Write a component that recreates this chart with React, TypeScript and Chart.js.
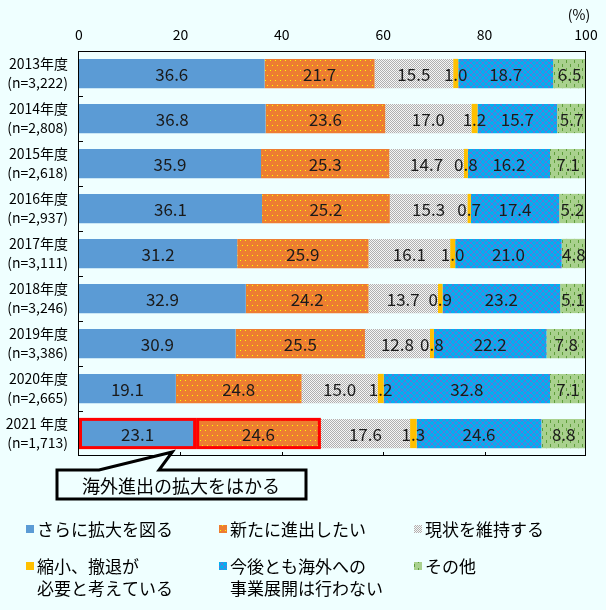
import React, { useEffect, useRef } from 'react';
import { Chart, registerables } from 'chart.js';
Chart.register(...registerables);

const years = ['2013年度', '2014年度', '2015年度', '2016年度', '2017年度', '2018年度', '2019年度', '2020年度', '2021 年度'];
const sampleSizes = ['(n=3,222)', '(n=2,808)', '(n=2,618)', '(n=2,937)', '(n=3,111)', '(n=3,246)', '(n=3,386)', '(n=2,665)', '(n=1,713)'];

const expandMore = [36.6, 36.8, 35.9, 36.1, 31.2, 32.9, 30.9, 19.1, 23.1];
const newEntry = [21.7, 23.6, 25.3, 25.2, 25.9, 24.2, 25.5, 24.8, 24.6];
const maintain = [15.5, 17.0, 14.7, 15.3, 16.1, 13.7, 12.8, 15.0, 17.6];
const shrink = [1.0, 1.2, 0.8, 0.7, 1.0, 0.9, 0.8, 1.2, 1.3];
const noOverseas = [18.7, 15.7, 16.2, 17.4, 21.0, 23.2, 22.2, 32.8, 24.6];
const others = [6.5, 5.7, 7.1, 5.2, 4.8, 5.1, 7.8, 7.1, 8.8];

const seriesNames = [
  ['さらに拡大を図る'],
  ['新たに進出したい'],
  ['現状を維持する'],
  ['縮小、撤退が', '必要と考えている'],
  ['今後とも海外への', '事業展開は行わない'],
  ['その他'],
];
const xTicks = [0, 20, 40, 60, 80, 100];
const calloutText = '海外進出の拡大をはかる';
const highlightIndex = 8;
const highlightSeries = [0, 1];

const FONT = '"Noto Sans CJK JP", "Noto Sans", sans-serif';
const BG = '#EFFFFF';

function makePattern(w: number, h: number, draw: (c: CanvasRenderingContext2D) => void) {
  const cv = document.createElement('canvas');
  cv.width = w;
  cv.height = h;
  const c = cv.getContext('2d')!;
  draw(c);
  return c.createPattern(cv, 'repeat')!;
}

function buildFills() {
  const blue = '#5B9BD5';
  const orange = makePattern(5, 10, (c) => {
    c.fillStyle = '#ED7D31';
    c.fillRect(0, 0, 5, 10);
    c.fillStyle = '#FFFF00';
    c.fillRect(0, 0, 1, 1);
    c.fillRect(2, 5, 1, 1);
  });
  const gray = makePattern(2, 2, (c) => {
    c.fillStyle = '#F6F6F6';
    c.fillRect(0, 0, 2, 2);
    c.fillStyle = '#B0B0B0';
    c.fillRect(0, 0, 1, 1);
    c.fillRect(1, 1, 1, 1);
  });
  const gold = '#FFC000';
  const cyan = makePattern(6, 6, (c) => {
    c.fillStyle = '#00B0F0';
    c.fillRect(0, 0, 6, 6);
    c.fillStyle = '#5F78D8';
    for (let i = 0; i < 6; i++) {
      c.fillRect(i, i, 1, 1);
      c.fillRect(i, 5 - i, 1, 1);
    }
  });
  const green = makePattern(8, 8, (c) => {
    c.fillStyle = '#A9D18E';
    c.fillRect(0, 0, 8, 8);
    c.fillStyle = '#5E9E3A';
    c.fillRect(2, 0, 1, 3);
    c.fillRect(6, 4, 1, 3);
  });
  return [blue, orange, gray, gold, cyan, green];
}

export default function App() {
  const ref = useRef<HTMLCanvasElement | null>(null);

  useEffect(() => {
    const canvas = ref.current;
    if (!canvas) return;
    const fills = buildFills();
    const values = [expandMore, newEntry, maintain, shrink, noOverseas, others];

    const bgPlugin = {
      id: 'bg',
      beforeDraw(chart: any) {
        const ctx = chart.ctx;
        ctx.save();
        ctx.fillStyle = BG;
        ctx.fillRect(0, 0, chart.width, chart.height);
        ctx.restore();
      },
    };

    const overlayPlugin = {
      id: 'overlay',
      afterDatasetsDraw(chart: any) {
        const ctx = chart.ctx;
        ctx.save();
        // red highlight outlines
        ctx.strokeStyle = '#FF0000';
        ctx.lineWidth = 3;
        highlightSeries.forEach((di) => {
          const el: any = chart.getDatasetMeta(di).data[highlightIndex];
          const left = Math.min(el.x, el.base);
          const right = Math.max(el.x, el.base);
          const top = el.y - el.height / 2;
          ctx.strokeRect(left + 1.5, top + 0.5, right - left - 3, el.height - 1);
        });
        ctx.font = `17px ${FONT}`;
        ctx.fillStyle = '#1A1A1A';
        ctx.textAlign = 'center';
        ctx.textBaseline = 'middle';
        chart.data.datasets.forEach((ds: any, di: number) => {
          const meta = chart.getDatasetMeta(di);
          meta.data.forEach((el: any, i: number) => {
            const v = ds.data[i];
            const cx = (el.x + el.base) / 2;
            ctx.fillText(v.toFixed(1), cx, el.y + 1);
          });
        });
        ctx.restore();
      },
      afterDraw(chart: any) {
        const ctx = chart.ctx;
        const a = chart.chartArea;
        const xs = chart.scales.x;
        const ys = chart.scales.y;
        ctx.save();
        // plot border
        ctx.strokeStyle = '#000';
        ctx.lineWidth = 1;
        ctx.strokeRect(Math.round(a.left) - 0.5, Math.round(a.top) + 0.5, Math.round(a.right - a.left), Math.round(a.bottom - a.top) - 1);
        // inner ticks
        ctx.beginPath();
        for (let i = 1; i < years.length; i++) {
          const y = Math.round((ys.getPixelForValue(i - 1) + ys.getPixelForValue(i)) / 2) + 0.5;
          ctx.moveTo(a.left, y);
          ctx.lineTo(a.left + 4, y);
        }
        xTicks.slice(1, -1).forEach((t) => {
          const x = Math.round(xs.getPixelForValue(t)) + 0.5;
          ctx.moveTo(x, a.bottom);
          ctx.lineTo(x, a.bottom - 4);
        });
        ctx.stroke();

        // (%) unit
        ctx.font = `14px ${FONT}`;
        ctx.fillStyle = '#000';
        ctx.textAlign = 'center';
        ctx.textBaseline = 'middle';
        ctx.fillText('(%)', 579, 15);

        // callout
        const tipX = xs.getPixelForValue(18.4);
        const tipY = a.bottom - 4;
        ctx.beginPath();
        ctx.moveTo(57, 470);
        ctx.lineTo(99, 470);
        ctx.lineTo(tipX, tipY);
        ctx.lineTo(159, 470);
        ctx.lineTo(306, 470);
        ctx.lineTo(306, 499);
        ctx.lineTo(57, 499);
        ctx.closePath();
        ctx.fillStyle = BG;
        ctx.fill();
        ctx.lineWidth = 3;
        ctx.lineJoin = 'miter';
        ctx.strokeStyle = '#000';
        ctx.stroke();
        ctx.fillStyle = '#000';
        ctx.font = `18px ${FONT}`;
        ctx.fillText(calloutText, 181, 486);

        // legend
        const colX = [26, 219, 414];
        const rowY = [530, 567];
        ctx.font = `17px ${FONT}`;
        ctx.textAlign = 'left';
        seriesNames.forEach((lines, i) => {
          const col = i % 3;
          const row = Math.floor(i / 3);
          const mx = colX[col];
          const my = rowY[row];
          ctx.fillStyle = fills[i] as any;
          ctx.fillRect(mx, my - 5, 8, 8);
          ctx.fillStyle = '#000';
          lines.forEach((ln, li) => {
            ctx.fillText(ln, mx + 11, my + li * 22);
          });
        });
        ctx.restore();
      },
    };

    const chart = new Chart(canvas, {
      type: 'bar',
      data: {
        labels: years.map((y, i) => [y, sampleSizes[i]]),
        datasets: values.map((vals, di) => ({
          label: seriesNames[di].join(''),
          data: vals,
          backgroundColor: fills[di] as any,
          borderWidth: 0,
          categoryPercentage: 1,
          barPercentage: 0.65,
        })),
      },
      options: {
        indexAxis: 'y',
        responsive: false,
        animation: false,
        devicePixelRatio: 1,
        layout: { padding: { left: 0, top: 0, right: 20, bottom: 154 } },
        plugins: {
          legend: { display: false },
          tooltip: { enabled: false },
        },
        scales: {
          x: {
            type: 'linear',
            position: 'top',
            stacked: true,
            min: 0,
            max: 100,
            afterBuildTicks: (scale: any) => {
              scale.ticks = xTicks.map((v) => ({ value: v }));
            },
            afterFit: (scale: any) => {
              scale.height = 51;
            },
            grid: { display: false, drawTicks: false },
            border: { display: false },
            ticks: {
              font: { family: FONT, size: 14 },
              color: '#000',
              padding: 8,
              maxRotation: 0,
            },
          },
          y: {
            type: 'category',
            stacked: true,
            afterFit: (scale: any) => {
              scale.width = 79;
            },
            grid: { display: false, drawTicks: false },
            border: { display: false },
            ticks: {
              font: { family: FONT, size: 14, lineHeight: 1.35 },
              color: '#000',
              padding: 11,
            },
          },
        },
      },
      plugins: [bgPlugin, overlayPlugin],
    } as any);

    return () => chart.destroy();
  }, []);

  return (
    <div style={{ position: 'absolute', left: 0, top: 0, width: 606, height: 610, background: BG }}>
      <canvas ref={ref} width={606} height={610} style={{ display: 'block', width: 606, height: 610 }} />
    </div>
  );
}
